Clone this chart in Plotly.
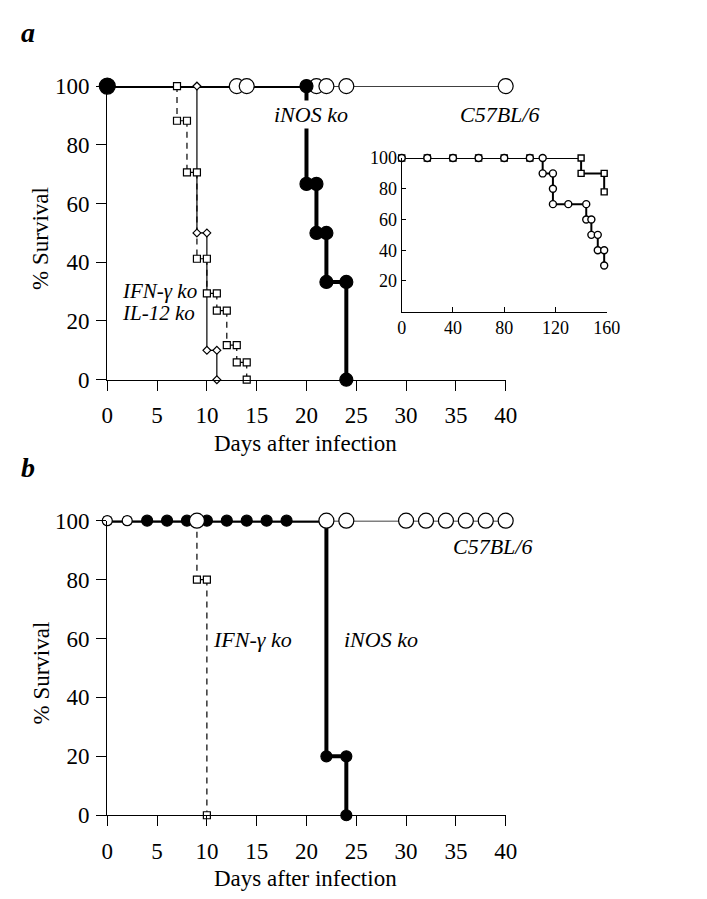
import plotly.graph_objects as go

W, H = 707, 899
FONT = "Liberation Serif"

# ---------------- data: panel a (main) ----------------
x_ticks_days = [0, 5, 10, 15, 20, 25, 30, 35, 40]
y_ticks_surv = [0, 20, 40, 60, 80, 100]

a_c57_line_x = [0, 40]
a_c57_line_y = [100, 100]
a_c57_mark_x = [13, 14, 21, 22, 24, 40]
a_c57_mark_y = [100, 100, 100, 100, 100, 100]

a_inos_x = [0, 20, 20, 21, 21, 22, 22, 24, 24]
a_inos_y = [100, 100, 66.7, 66.7, 50, 50, 33.3, 33.3, 0]

a_ifng_x = [0, 7, 7, 8, 8, 9, 9, 10, 10, 11, 11, 12, 12, 13, 13, 14, 14]
a_ifng_y = [100, 100, 88.2, 88.2, 70.6, 70.6, 41.2, 41.2, 29.4, 29.4, 23.5, 23.5, 11.8, 11.8, 5.9, 5.9, 0]

a_il12_x = [0, 9, 9, 10, 10, 11, 11]
a_il12_y = [100, 100, 50, 50, 10, 10, 0]

# ---------------- data: inset ----------------
in_x_ticks = [0, 40, 80, 120, 160]
in_y_ticks = [20, 40, 60, 80, 100]
in_c57_x = [0, 20, 40, 60, 80, 100, 110, 110, 118, 118, 118, 130, 144, 144, 148, 148, 153, 153, 158, 158]
in_c57_y = [100, 100, 100, 100, 100, 100, 100, 90, 90, 80, 70, 70, 70, 60, 60, 50, 50, 40, 40, 30]
in_b6_x = [0, 20, 40, 60, 80, 100, 140, 140, 158, 158]
in_b6_y = [100, 100, 100, 100, 100, 100, 100, 90, 90, 78]

# ---------------- data: panel b ----------------
b_c57_line_x = [0, 40]
b_c57_line_y = [100, 100]
b_c57_mark_x = [0, 2, 9, 22, 24, 30, 32, 34, 36, 38, 40]
b_c57_mark_y = [100, 100, 100, 100, 100, 100, 100, 100, 100, 100, 100]

b_inos_x = [0, 22, 22, 24, 24]
b_inos_y = [100, 100, 20, 20, 0]
b_inos_mark_x = [4, 6, 8, 10, 12, 14, 16, 18, 22, 24, 24]
b_inos_mark_y = [100, 100, 100, 100, 100, 100, 100, 100, 20, 20, 0]

b_ifng_x = [0, 9, 9, 10, 10]
b_ifng_y = [100, 100, 80, 80, 0]
b_ifng_mark_x = [0, 2, 9, 10, 10]
b_ifng_mark_y = [100, 100, 80, 80, 0]


def split_steps(xs, ys):
    """Split a step path into horizontal and vertical segment lists."""
    hx, hy, vx, vy = [], [], [], []
    for i in range(len(xs) - 1):
        if ys[i] == ys[i + 1]:
            hx += [xs[i], xs[i + 1], None]
            hy += [ys[i], ys[i + 1], None]
        else:
            vx += [xs[i], xs[i + 1], None]
            vy += [ys[i], ys[i + 1], None]
    return hx, hy, vx, vy


def px(p):
    return p / W


def py(p):
    return 1 - p / H


fig = go.Figure()
BLK = "black"


def line(x, y, xa, ya, width, dash="solid"):
    fig.add_trace(go.Scatter(x=x, y=y, xaxis=xa, yaxis=ya, mode="lines",
                             line=dict(color=BLK, width=width, dash=dash),
                             hoverinfo="skip", cliponaxis=False, connectgaps=False))


def marks(x, y, xa, ya, symbol, size, fill, lw=1.2):
    fig.add_trace(go.Scatter(x=x, y=y, xaxis=xa, yaxis=ya, mode="markers",
                             marker=dict(symbol=symbol, size=size, color=fill, opacity=1,
                                         line=dict(color=BLK, width=lw)),
                             hoverinfo="skip", cliponaxis=False))


# ---------- panel a main ----------
line(a_c57_line_x, a_c57_line_y, "x", "y", 1.4)
line(a_il12_x, a_il12_y, "x", "y", 1.2)
hx, hy, vx, vy = split_steps(a_ifng_x, a_ifng_y)
line(hx, hy, "x", "y", 1.2)
line(vx, vy, "x", "y", 1.2, dash="6px,5px")
line(a_inos_x, a_inos_y, "x", "y", 4)
marks(a_ifng_x[1:], a_ifng_y[1:], "x", "y", "square", 7, "white")
marks(a_il12_x[1:], a_il12_y[1:], "x", "y", "diamond", 6, "white")
marks(a_c57_mark_x, a_c57_mark_y, "x", "y", "circle", 15, "white")
marks(a_inos_x, a_inos_y, "x", "y", "circle",
      [16] + [13] * (len(a_inos_x) - 1), BLK)

# ---------- inset ----------
line(in_b6_x, in_b6_y, "x2", "y2", 2)
line(in_c57_x, in_c57_y, "x2", "y2", 2)
marks(in_b6_x, in_b6_y, "x2", "y2", "square", 6, "white", 1.4)
marks(in_c57_x, in_c57_y, "x2", "y2", "circle", 7, "white", 1.4)

# ---------- panel b ----------
line(b_c57_line_x, b_c57_line_y, "x3", "y3", 1.4)
hx, hy, vx, vy = split_steps(b_ifng_x, b_ifng_y)
line(hx, hy, "x3", "y3", 1.2)
line(vx, vy, "x3", "y3", 1.2, dash="6px,5px")
line(b_inos_x, b_inos_y, "x3", "y3", 4)
marks(b_ifng_mark_x, b_ifng_mark_y, "x3", "y3", "square", 7, "white")
marks(b_inos_mark_x, b_inos_mark_y, "x3", "y3", "circle", 11, BLK)
marks(b_c57_mark_x, b_c57_mark_y, "x3", "y3", "circle",
      [10 if v < 5 else 15 for v in b_c57_mark_x], "white")


def ax(**kw):
    d = dict(showline=True, linecolor=BLK, linewidth=1.3, ticks="outside",
             tickcolor=BLK, ticklen=10, tickwidth=1.3, showgrid=False,
             zeroline=False, tickfont=dict(family=FONT, size=23, color=BLK))
    d.update(kw)
    return d


main_x_dom = [px(96), px(506)]
fig.update_layout(
    width=W, height=H, margin=dict(l=0, r=0, t=0, b=0),
    paper_bgcolor="white", plot_bgcolor="rgba(0,0,0,0)", showlegend=False,
    xaxis=ax(domain=main_x_dom, range=[0, 40], tickvals=x_ticks_days, anchor="y",
             ticklabelstandoff=5),
    yaxis=ax(domain=[py(370), py(68)], range=[0, 100], tickvals=y_ticks_surv, anchor="x",
             ticklabelstandoff=2),
    xaxis2=ax(domain=[px(399), px(610)], range=[0, 160], tickvals=in_x_ticks,
              ticks="inside", ticklen=5, anchor="y2",
              tickfont=dict(family=FONT, size=18, color=BLK)),
    yaxis2=ax(domain=[py(300), py(142)], range=[0, 100], tickvals=in_y_ticks,
              ticks="inside", ticklen=4, anchor="x2",
              tickfont=dict(family=FONT, size=18, color=BLK)),
    xaxis3=ax(domain=main_x_dom, range=[0, 40], tickvals=x_ticks_days, anchor="y3",
              ticklabelstandoff=5),
    yaxis3=ax(domain=[py(818), py(515)], range=[0, 100], tickvals=y_ticks_surv, anchor="x3",
              ticklabelstandoff=2),
)

ann = []


def txt(text, x, y, xref, yref, size=22, italic=True, xanchor="left", bold=False, angle=0, bg=None):
    t = text
    if bold:
        t = "<b>" + t + "</b>"
    if italic:
        t = "<i>" + t + "</i>"
    d = dict(text=t, x=x, y=y, xref=xref, yref=yref, showarrow=False,
             xanchor=xanchor, yanchor="middle", textangle=angle,
             font=dict(family=FONT, size=size, color=BLK))
    if bg:
        d["bgcolor"] = bg
    ann.append(d)


# panel letters
txt("a", px(5), py(13), "paper", "paper", size=28, bold=True)
txt("b", px(5), py(460), "paper", "paper", size=28, bold=True)
# axis titles
txt("% Survival", px(28), py(225), "paper", "paper", size=23, italic=False, xanchor="center", angle=-90)
txt("% Survival", px(28), py(672), "paper", "paper", size=23, italic=False, xanchor="center", angle=-90)
txt("Days after infection", px(300), py(436), "paper", "paper", size=23, italic=False, xanchor="center")
txt("Days after infection", px(300), py(883), "paper", "paper", size=23, italic=False, xanchor="center")
# panel a labels
txt("iNOS ko", 20.5, 90.4, "x", "y", xanchor="center", bg="white")
txt("C57BL/6", 35.2, 90.2, "x", "y")
txt("IFN-γ ko", 1.3, 30.2, "x", "y", size=21)
txt("IL-12 ko", 1.3, 22.6, "x", "y", size=21)
# inset labels
txt("B6x129 F1", 164.5, 75, "x2", "y2", size=18, italic=False)
txt("C57BL/6", 164.5, 28.5, "x2", "y2", size=18, italic=False)
# panel b labels
txt("C57BL/6", 34.5, 91.2, "x3", "y3")
txt("IFN-γ ko", 10.4, 59.8, "x3", "y3")
txt("iNOS ko", 23.6, 59.8, "x3", "y3")

fig.update_layout(annotations=ann)
fig.write_html("out.html")
